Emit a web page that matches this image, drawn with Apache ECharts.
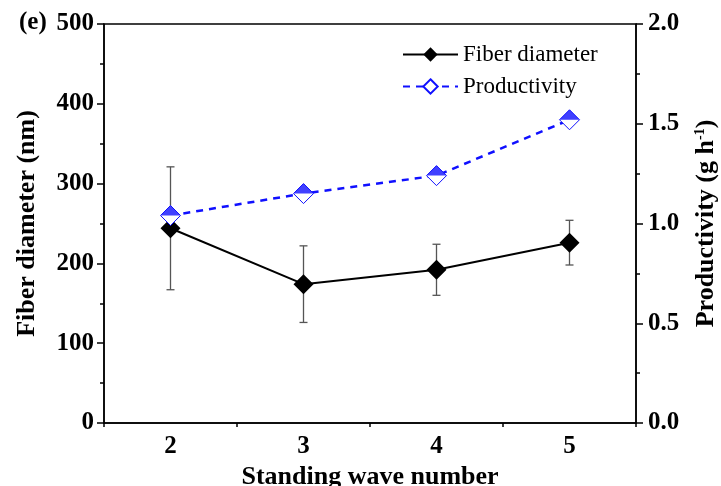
<!DOCTYPE html>
<html>
<head>
<meta charset="utf-8">
<script src="https://cdn.jsdelivr.net/npm/echarts@6/dist/echarts.min.js"></script>
<style>
  html, body { margin: 0; padding: 0; background: #fff; }
  #chart { width: 721px; height: 486px; }
</style>
</head>
<body>
<div id="chart"></div>
<script>
// standing wave numbers (x categories)
const waveNumbers = ['2', '3', '4', '5'];
// fiber diameter in nm, with standard deviation
const fiberDiameter = [244, 174, 192, 226];
const fiberError = [77, 48, 32, 28];
// productivity in g/h
const productivity = [1.04, 1.15, 1.24, 1.52];

const FONT = 'Liberation Serif';
const BLUE = '#1010ff';

const chart = echarts.init(document.getElementById('chart'));

const errorData = fiberDiameter.map((v, i) => [i, v - fiberError[i], v + fiberError[i]]);

const renderErrorBar = (params, api) => {
  const lo = api.coord([api.value(0), api.value(1)]);
  const hi = api.coord([api.value(0), api.value(2)]);
  const cap = 4;
  const style = { stroke: '#555', lineWidth: 1.3 };
  return {
    type: 'group',
    children: [
      { type: 'line', shape: { x1: lo[0], y1: lo[1], x2: hi[0], y2: hi[1] }, style },
      { type: 'line', shape: { x1: lo[0] - cap, y1: lo[1], x2: lo[0] + cap, y2: lo[1] }, style },
      { type: 'line', shape: { x1: hi[0] - cap, y1: hi[1], x2: hi[0] + cap, y2: hi[1] }, style },
    ],
  };
};

const axisLine = { show: true, lineStyle: { color: '#000', width: 1.5 } };
const labelStyle = { fontFamily: FONT, fontWeight: 'bold', fontSize: 25, color: '#000' };
const nameStyle = { fontFamily: FONT, fontWeight: 'bold', fontSize: 26, color: '#000' };

chart.setOption({
  animation: false,
  grid: {
    left: 104, right: 85, top: 24, bottom: 63,
    outerBoundsMode: 'none',
    containLabel: false,
    show: true, borderColor: '#000', borderWidth: 1.5,
  },
  legend: {
    orient: 'vertical',
    left: 397,
    top: 38,
    itemWidth: 55,
    itemHeight: 18,
    itemGap: 9,
    textStyle: { fontFamily: FONT, fontSize: 23, color: '#000' },
    data: ['Fiber diameter', 'Productivity'],
  },
  graphic: [
    {
      type: 'text', left: 19, top: 10,
      style: { text: '(e)', font: 'bold 25px "Liberation Serif"', fill: '#000' },
    },
  ],
  xAxis: [
    {
      type: 'category',
      data: waveNumbers,
      boundaryGap: true,
      axisLine,
      axisTick: { alignWithLabel: true, length: 7, lineStyle: { color: '#000', width: 1.5 } },
      axisLabel: { ...labelStyle, margin: 11 },
      name: 'Standing wave number',
      nameLocation: 'middle',
      nameGap: 33,
      nameTextStyle: nameStyle,
      splitLine: { show: false },
    },
    {
      type: 'category',
      data: waveNumbers,
      position: 'bottom',
      boundaryGap: true,
      axisLine: { show: false },
      axisTick: { show: true, length: 4, lineStyle: { color: '#000', width: 1.5 } },
      axisLabel: { show: false },
      splitLine: { show: false },
    },
  ],
  yAxis: [
    {
      type: 'value',
      min: 0, max: 500, interval: 100,
      axisLine,
      axisTick: { show: true, length: 7, lineStyle: { color: '#000', width: 1.5 } },
      minorTick: { show: true, splitNumber: 2, length: 4, lineStyle: { color: '#000', width: 1.5 } },
      axisLabel: { ...labelStyle, margin: 10 },
      splitLine: { show: false },
      name: 'Fiber diameter (nm)',
      nameLocation: 'middle',
      nameGap: 64,
      nameRotate: 90,
      nameTextStyle: nameStyle,
    },
    {
      type: 'value',
      min: 0, max: 2, interval: 0.5,
      position: 'right',
      axisLine,
      axisTick: { show: true, length: 7, lineStyle: { color: '#000', width: 1.5 } },
      minorTick: { show: true, splitNumber: 2, length: 4, lineStyle: { color: '#000', width: 1.5 } },
      axisLabel: { ...labelStyle, margin: 12, formatter: (v) => v.toFixed(1) },
      splitLine: { show: false },
      name: 'Productivity (g h{sup|-1})',
      nameLocation: 'middle',
      nameGap: 57,
      nameRotate: 90,
      nameTextStyle: {
        ...nameStyle,
        rich: {
          sup: { fontFamily: FONT, fontWeight: 'bold', fontSize: 14, color: '#000', verticalAlign: 'top', padding: [0, 0, 13, 0] },
        },
      },
    },
  ],
  series: [
    {
      type: 'custom',
      name: 'error',
      xAxisIndex: 0,
      yAxisIndex: 0,
      renderItem: renderErrorBar,
      data: errorData,
      z: 1,
    },
    {
      type: 'line',
      name: 'Fiber diameter',
      xAxisIndex: 0,
      yAxisIndex: 0,
      data: fiberDiameter,
      symbol: 'diamond',
      symbolSize: 20,
      lineStyle: { color: '#000', width: 2 },
      itemStyle: { color: '#000' },
      z: 3,
    },
    {
      type: 'line',
      name: 'Productivity',
      xAxisIndex: 0,
      yAxisIndex: 1,
      data: productivity,
      symbol: 'diamond',
      symbolSize: 20,
      lineStyle: { color: BLUE, width: 2.5, type: [7, 6] },
      itemStyle: { color: '#fff', borderColor: BLUE, borderWidth: 1 },
      z: 4,
    },
    {
      // filled top half of the productivity markers
      type: 'scatter',
      name: 'Productivity top',
      xAxisIndex: 0,
      yAxisIndex: 1,
      data: productivity,
      symbol: 'path://M0,10 L10,0 L20,10 Z',
      symbolSize: [20, 10],
      symbolOffset: [0, -5],
      itemStyle: { color: BLUE },
      z: 5,
    },
  ],
});
</script>
</body>
</html>
